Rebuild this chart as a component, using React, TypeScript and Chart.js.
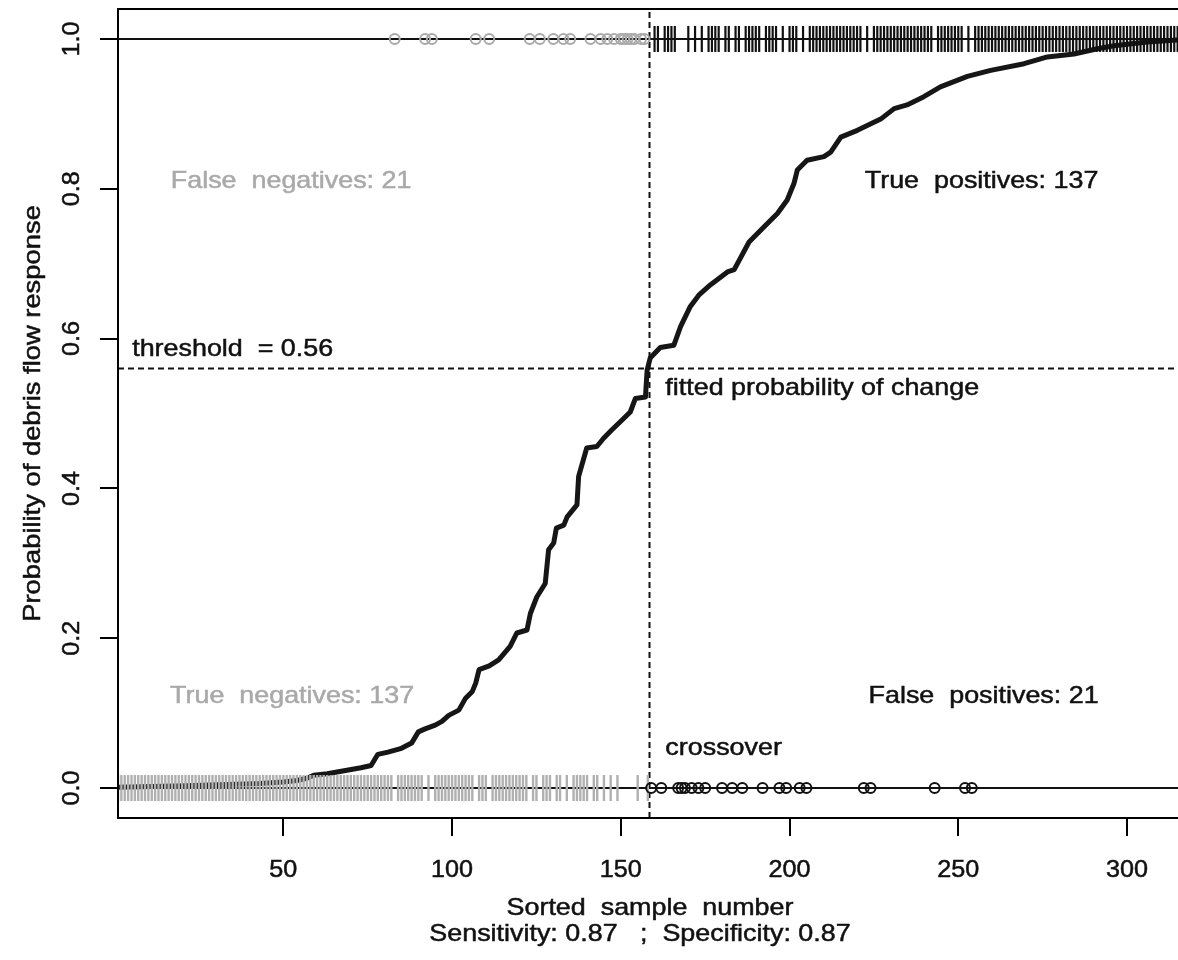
import React, { useEffect, useRef } from "react";
import { Chart, registerables } from "chart.js";

Chart.register(...registerables);

// ---- data ----
const curveX = [
  1, 11, 21, 28, 36, 43, 50, 54, 57, 59, 63, 68, 73, 76, 78, 81, 85, 88, 90, 92,
  95, 97, 99, 102, 104, 106, 107, 108, 111, 113.8, 117.2, 119.2, 122.2, 123.2,
  125.1, 127.6, 128.6, 130.1, 130.9, 133.1, 134.1, 137, 137.5, 139.9, 142.9,
  144.9, 147.3, 150.3, 152.8, 154.3, 157.3, 157.8, 158.7, 161.7, 165.7, 167.7,
  170.6, 173.1, 176.6, 181.6, 183.6, 188, 192.4, 196.4, 199.3, 201.3, 202.3,
  205.2, 210.2, 212.2, 215.2, 220.1, 227, 231, 234.8, 239.8, 244.7, 252.7,
  259.6, 269.5, 276.4, 284.3, 291.2, 296.2, 306, 316,
];
const curveY = [
  0.001, 0.002, 0.003, 0.004, 0.005, 0.006, 0.008, 0.01, 0.013, 0.017, 0.019,
  0.023, 0.027, 0.03, 0.045, 0.048, 0.053, 0.06, 0.075, 0.079, 0.084, 0.089,
  0.097, 0.104, 0.12, 0.129, 0.14, 0.158, 0.163, 0.171, 0.189, 0.207, 0.211,
  0.233, 0.255, 0.273, 0.318, 0.327, 0.347, 0.351, 0.362, 0.378, 0.416, 0.454,
  0.456, 0.467, 0.478, 0.491, 0.502, 0.52, 0.522, 0.558, 0.574, 0.588, 0.591,
  0.616, 0.643, 0.658, 0.672, 0.689, 0.692, 0.729, 0.749, 0.767, 0.785, 0.807,
  0.825, 0.838, 0.843, 0.849, 0.869, 0.878, 0.893, 0.907, 0.912, 0.923, 0.936,
  0.95, 0.958, 0.967, 0.976, 0.98, 0.987, 0.991, 0.996, 0.999,
];
// false negatives: observed 1, sample number below crossover
const falseNegIdx = [
  83, 92, 94, 107, 111, 123, 126, 130, 133, 135, 141, 144, 146, 148, 150, 151,
  152, 153, 154, 156, 157,
];
// false positives: observed 0, sample number above crossover
const falsePosIdx = [
  159, 162, 167, 168, 169, 171, 173, 175, 180, 183, 186, 192, 197, 199, 203,
  205, 222, 224, 243, 252, 254,
];
const sampleCount = 316;
const crossover = 158.5;
const threshold = 0.56;

const xTicks = [50, 100, 150, 200, 250, 300];
const yTicks = [0, 0.2, 0.4, 0.6, 0.8, 1.0];
const yTickLabels = ["0.0", "0.2", "0.4", "0.6", "0.8", "1.0"];

const xTitle = "Sorted  sample  number";
const xSubTitle = "Sensitivity: 0.87   ;  Specificity: 0.87";
const yTitle = "Probability of debris flow response";

const noteTexts = [
  "False  negatives: 21",
  "True  positives: 137",
  "True  negatives: 137",
  "False  positives: 21",
  "threshold  = 0.56",
  "fitted probability of change",
  "crossover",
];
const noteX = [52.3, 256.9, 52.6, 257.5, 5.2, 163.2, 163.2];
const noteY = [0.81, 0.81, 0.123, 0.123, 0.586, 0.534, 0.053];
const noteGrey = [true, false, true, false, false, false, false];
const noteAlign: CanvasTextAlign[] = ["center", "center", "center", "center", "left", "left", "left"];

// derived rug positions: every sample index carries one mark
const allIdx = Array.from({ length: sampleCount }, (_, i) => i + 1);
const trueNegIdx = allIdx.filter((i) => i < crossover && !falseNegIdx.includes(i));
const truePosIdx = allIdx.filter((i) => i > crossover && !falsePosIdx.includes(i));

const GREY = "#a9a9a9";
const BLACK = "#111111";
const FONT = "24px 'Liberation Sans', Arial, Helvetica, sans-serif";

function drawText(
  ctx: CanvasRenderingContext2D,
  text: string,
  x: number,
  y: number,
  align: CanvasTextAlign,
  color: string,
  sx = 1.12,
  rotate = 0,
  baseline: CanvasTextBaseline = "middle"
) {
  ctx.save();
  ctx.translate(x, y);
  if (rotate) ctx.rotate(rotate);
  ctx.scale(sx, 1);
  ctx.font = FONT;
  ctx.fillStyle = color;
  ctx.strokeStyle = color;
  ctx.lineWidth = 0.5;
  ctx.textAlign = align;
  ctx.textBaseline = baseline;
  ctx.fillText(text, 0, 0);
  ctx.strokeText(text, 0, 0);
  ctx.restore();
}

const rAxesPlugin = {
  id: "rAxes",
  afterDraw(chart: any) {
    const ctx: CanvasRenderingContext2D = chart.ctx;
    const xs = chart.scales.x;
    const ys = chart.scales.y;
    const a = chart.chartArea;
    ctx.save();
    ctx.strokeStyle = "#000";
    ctx.lineWidth = 2;
    ctx.strokeRect(a.left, a.top, a.right - a.left, a.bottom - a.top);
    ctx.beginPath();
    xTicks.forEach((v) => {
      const px = Math.round(xs.getPixelForValue(v));
      ctx.moveTo(px, a.bottom);
      ctx.lineTo(px, a.bottom + 18);
    });
    yTicks.forEach((v) => {
      const py = Math.round(ys.getPixelForValue(v));
      ctx.moveTo(a.left, py);
      ctx.lineTo(a.left - 18, py);
    });
    ctx.stroke();
    ctx.restore();

    xTicks.forEach((v) => {
      drawText(ctx, String(v), xs.getPixelForValue(v), 877, "center", BLACK, 1.05, 0, "alphabetic");
    });
    yTicks.forEach((v, i) => {
      drawText(ctx, yTickLabels[i], 79, ys.getPixelForValue(v), "center", BLACK, 1.05, -Math.PI / 2, "alphabetic");
    });
    drawText(ctx, xTitle, 650, 915, "center", BLACK, 1.12, 0, "alphabetic");
    drawText(ctx, xSubTitle, 640, 941, "center", BLACK, 1.12, 0, "alphabetic");
    drawText(ctx, yTitle, 33, (a.top + a.bottom) / 2, "center", BLACK, 1.14, -Math.PI / 2, "middle");

    noteTexts.forEach((t, i) => {
      drawText(
        ctx,
        t,
        xs.getPixelForValue(noteX[i]),
        ys.getPixelForValue(noteY[i]),
        noteAlign[i],
        noteGrey[i] ? GREY : BLACK,
        1.12
      );
    });
  },
};

export default function App() {
  const ref = useRef<HTMLCanvasElement | null>(null);
  useEffect(() => {
    if (!ref.current) return;
    const chart = new Chart(ref.current, {
      type: "scatter",
      data: {
        datasets: [
          {
            label: "false negatives",
            data: falseNegIdx.map((i) => ({ x: i, y: 1 })),
            pointStyle: "circle",
            pointRadius: 5,
            pointBorderWidth: 2,
            pointBorderColor: GREY,
            pointBackgroundColor: "rgba(0,0,0,0)",
            order: 1,
          },
          {
            label: "false positives",
            data: falsePosIdx.map((i) => ({ x: i, y: 0 })),
            pointStyle: "circle",
            pointRadius: 5,
            pointBorderWidth: 2,
            pointBorderColor: BLACK,
            pointBackgroundColor: "rgba(0,0,0,0)",
            order: 1,
          },
          {
            label: "true negatives",
            data: trueNegIdx.map((i) => ({ x: i, y: 0 })),
            pointStyle: "line",
            pointRotation: 90,
            pointRadius: 13,
            pointBorderWidth: 2.4,
            pointBorderColor: "#b0b0b0",
            order: 2,
          },
          {
            label: "true positives",
            data: truePosIdx.map((i) => ({ x: i, y: 1 })),
            pointStyle: "line",
            pointRotation: 90,
            pointRadius: 13,
            pointBorderWidth: 2.2,
            pointBorderColor: BLACK,
            order: 2,
          },
          {
            label: "h0",
            data: [
              { x: 1, y: 0 },
              { x: sampleCount, y: 0 },
            ],
            showLine: true,
            borderColor: BLACK,
            borderWidth: 2,
            pointRadius: 0,
            order: 3,
          },
          {
            label: "h1",
            data: [
              { x: 1, y: 1 },
              { x: sampleCount, y: 1 },
            ],
            showLine: true,
            borderColor: BLACK,
            borderWidth: 2,
            pointRadius: 0,
            order: 3,
          },
          {
            label: "threshold",
            data: [
              { x: 1, y: threshold },
              { x: sampleCount, y: threshold },
            ],
            showLine: true,
            borderColor: BLACK,
            borderWidth: 2,
            borderDash: [6, 4],
            pointRadius: 0,
            order: 3,
          },
          {
            label: "crossover",
            data: [
              { x: crossover, y: -0.04 },
              { x: crossover, y: 1.04 },
            ],
            showLine: true,
            borderColor: BLACK,
            borderWidth: 2,
            borderDash: [6, 4],
            pointRadius: 0,
            order: 3,
          },
          {
            label: "fitted probability",
            data: curveX.map((x, i) => ({ x, y: curveY[i] })),
            showLine: true,
            borderColor: "#161616",
            borderWidth: 5,
            borderJoinStyle: "round",
            borderCapStyle: "round",
            pointRadius: 0,
            order: 5,
          },
        ] as any,
      },
      options: {
        responsive: false,
        animation: false,
        devicePixelRatio: 1,
        events: [],
        layout: { autoPadding: false, padding: { left: 118, top: 9, right: 1, bottom: 142 } },
        scales: {
          x: { type: "linear", min: 1, max: sampleCount, display: false },
          y: { type: "linear", min: -0.04, max: 1.04, display: false },
        },
        plugins: {
          legend: { display: false },
          tooltip: { enabled: false },
        },
      },
      plugins: [rAxesPlugin],
    });
    return () => chart.destroy();
  }, []);

  return (
    <div
      style={{
        position: "absolute",
        left: 0,
        top: 0,
        width: 1178,
        height: 960,
        overflow: "hidden",
        background: "#fff",
      }}
    >
      <canvas ref={ref} width={1182} height={960} style={{ display: "block" }} />
    </div>
  );
}
